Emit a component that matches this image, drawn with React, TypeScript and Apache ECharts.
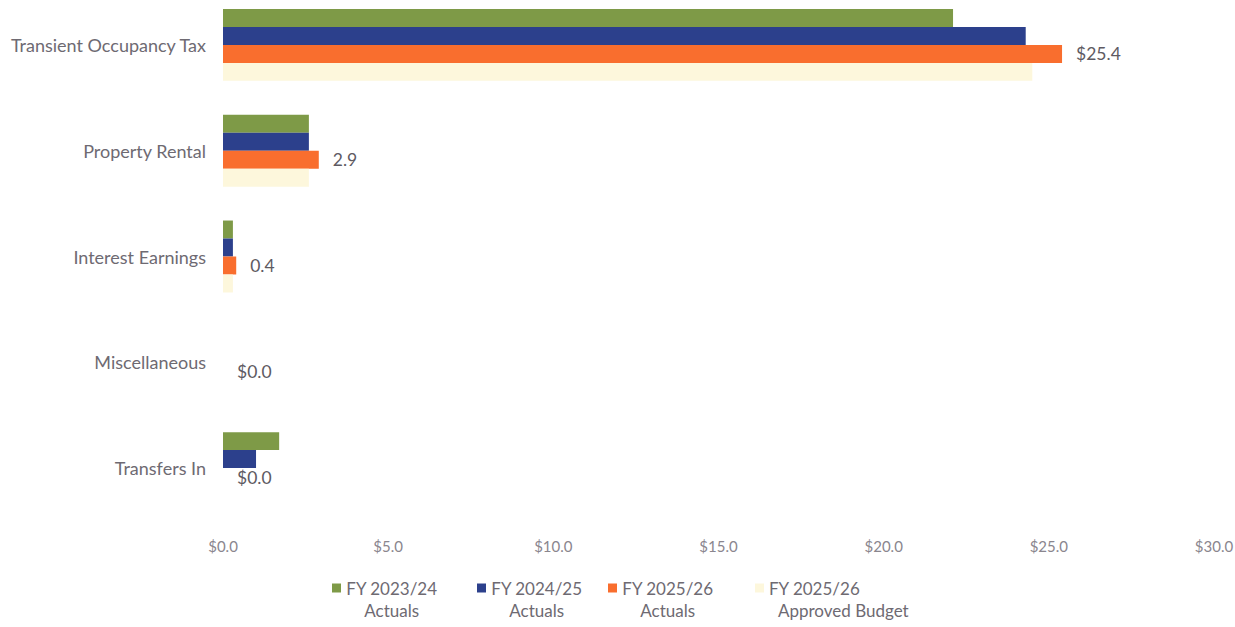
import React, { useEffect, useRef } from "react";
import * as echarts from "echarts";

const categories = [
  "Transient Occupancy Tax",
  "Property Rental",
  "Interest Earnings",
  "Miscellaneous",
  "Transfers In",
];
const seriesNames = [
  "FY 2023/24 Actuals",
  "FY 2024/25 Actuals",
  "FY 2025/26 Actuals",
  "FY 2025/26 Approved Budget",
];
const fy2324Actuals = [22.1, 2.6, 0.3, 0, 1.7];
const fy2425Actuals = [24.3, 2.6, 0.3, 0, 1.0];
const fy2526Actuals = [25.4, 2.9, 0.4, 0, 0];
const fy2526Budget = [24.5, 2.6, 0.3, 0, 0];
const fy2526Labels = ["$25.4", "2.9", "0.4", "$0.0", "$0.0"];
const xTicks = [0, 5, 10, 15, 20, 25, 30];

const colors = ["#7E9A47", "#2C408C", "#F96E2E", "#FDF7DC"];
const FONT = "Lato, 'Open Sans', sans-serif";
const TEXT_GRAY = "#6E6A72";

export default function App() {
  const ref = useRef<HTMLDivElement>(null);
  useEffect(() => {
    if (!ref.current) return;
    const chart = echarts.init(ref.current, null, { renderer: "svg" });
    const values = [fy2324Actuals, fy2425Actuals, fy2526Actuals, fy2526Budget];
    const legendLefts = [332, 477, 608, 755];
    const legendText = (name: string) => {
      const parts = name.split(" ");
      const first = parts.slice(0, 2).join(" ");
      const second = parts.slice(2).join(" ");
      if (second === "Actuals") return `{c|${first}}\n{c|${second}}`;
      return `{l|${first}}\n{m|${second}}`;
    };
    const legendFont = { fontSize: 17, color: TEXT_GRAY, fontFamily: FONT, lineHeight: 22 };
    const option: any = {
      animation: false,
      textStyle: { fontFamily: FONT },
      grid: { left: 223, width: 991, top: -8, height: 529, outerBoundsMode: "none", containLabel: false },
      xAxis: {
        type: "value",
        min: 0,
        max: 30,
        interval: 5,
        axisLine: { show: false },
        axisTick: { show: false },
        splitLine: { show: false },
        axisLabel: {
          margin: 17,
          fontSize: 15,
          color: "#8A868E",
          fontFamily: FONT,
          formatter: (v: number) => (xTicks.includes(v) ? `$${v.toFixed(1)}` : ""),
        },
      },
      yAxis: {
        type: "category",
        data: categories,
        inverse: true,
        axisLine: { show: false },
        axisTick: { show: false },
        axisLabel: { margin: 17, fontSize: 18, color: TEXT_GRAY, fontFamily: FONT },
      },
      legend: seriesNames.map((n, i) => ({
        data: [n],
        left: legendLefts[i],
        top: 555,
        padding: 0,
        itemWidth: 9,
        itemHeight: 9,
        icon: "rect",
        formatter: legendText,
        textStyle: {
          ...legendFont,
          padding: [22, 0, 0, 0],
          rich: {
            c: { ...legendFont, align: "center" },
            l: { ...legendFont, align: "left" },
            m: { ...legendFont, align: "left", padding: [0, 0, 0, 9] },
          },
        },
      })),
      series: seriesNames.map((n, i) => ({
        name: n,
        type: "bar",
        data: values[i],
        barGap: "0%",
        barCategoryGap: "32%",
        itemStyle: { color: colors[i] },
        label:
          i === 2
            ? {
                show: true,
                position: "right",
                distance: 14,
                fontSize: 17.5,
                color: "#5E5A62",
                fontFamily: FONT,
                formatter: (p: any) => fy2526Labels[p.dataIndex],
              }
            : { show: false },
      })),
    };
    chart.setOption(option);
    return () => chart.dispose();
  }, []);
  return <div ref={ref} style={{ width: 1235, height: 627, position: "absolute", left: 0, top: 0 }} />;
}
